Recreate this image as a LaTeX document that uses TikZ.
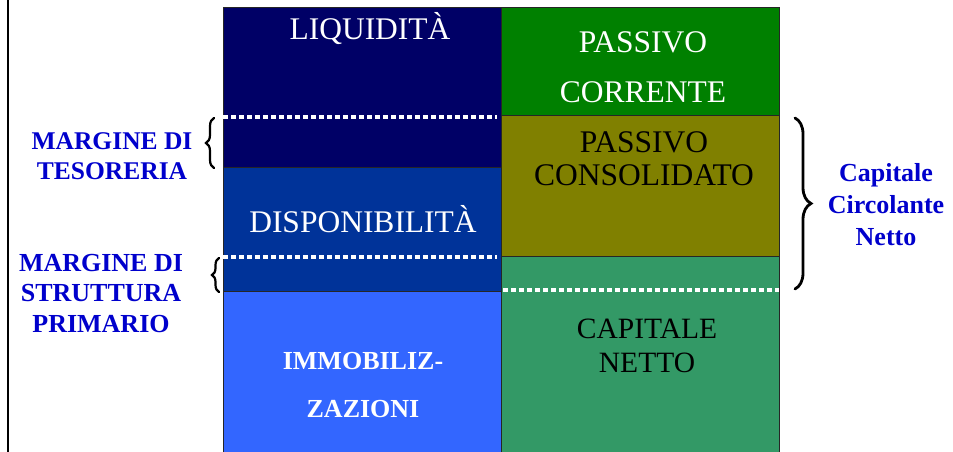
\documentclass[tikz,border=0pt]{standalone}
\usepackage{fontspec}
\setmainfont{Liberation Serif}
\usetikzlibrary{decorations.pathreplacing}
\definecolor{liqblue}{HTML}{000066}
\definecolor{dispblue}{HTML}{003399}
\definecolor{immblue}{HTML}{3366FF}
\definecolor{pcgreen}{HTML}{008000}
\definecolor{pcolive}{HTML}{808000}
\definecolor{cngreen}{HTML}{339966}
\definecolor{labblue}{HTML}{0000CC}
\begin{document}
\begin{tikzpicture}
  [x=1pt,y=-1pt,
   box/.style={rectangle,draw=black!85,line width=0.8pt,inner sep=0pt,minimum width=278pt},
   title/.style={text=#1,align=center,anchor=base,inner sep=0pt},
   margin/.style={text=labblue,align=center,anchor=base,inner sep=0pt},
   cut/.style={white,line width=3.5pt,dash pattern=on 4.5pt off 3.5pt},
   curly/.style={decorate,decoration={brace,amplitude=#1},line width=2.2pt,line cap=round}]
  \useasboundingbox (0,0) rectangle (953,452);
  \draw[line width=2pt] (8,-5) -- (8,460);
  % attivo
  \node[box,fill=liqblue,minimum height=160pt] (liq) at (362,87) {};
  \node[box,fill=dispblue,minimum height=124pt] (disp) at (362,229) {};
  \node[box,fill=immblue,minimum height=169pt] (imm) at (362,375.5) {};
  % passivo
  \node[box,fill=pcgreen,minimum height=108pt] (pcorr) at (640,61) {};
  \node[box,fill=pcolive,minimum height=141pt] (pcons) at (640,185.5) {};
  \node[box,fill=cngreen,minimum height=204pt] (cnet) at (640,358) {};
  % testi (base = ultima riga)
  \node[title=white,font=\fontsize{31.5}{48}\selectfont] (tliq) at (370,40) {LIQUIDITÀ};
  \node[title=white,font=\fontsize{31.5}{48}\selectfont] (tdisp) at (363,232) {DISPONIBILITÀ};
  \node[title=white,font=\bfseries\fontsize{26}{48}\selectfont] (timm) at (363,417) {IMMOBILIZ-\\ZAZIONI};
  \node[title=white,font=\fontsize{31.5}{50}\selectfont] (tpcorr) at (643,102) {PASSIVO\\CORRENTE};
  \node[title=black,font=\fontsize{31.5}{33}\selectfont] (tpcons) at (644,185) {PASSIVO\\CONSOLIDATO};
  \node[title=black,font=\fontsize{29.5}{33.5}\selectfont] (tcnet) at (647,372) {CAPITALE\\NETTO};
  % margini
  \coordinate (m1a) at (223,117); \coordinate (m1b) at (497,117);
  \coordinate (m2a) at (223,257); \coordinate (m2b) at (497,257);
  \coordinate (m3a) at (503,290); \coordinate (m3b) at (779,290);
  \draw[cut] (m1a) -- (m1b);
  \draw[cut] (m2a) -- (m2b);
  \draw[cut] (m3a) -- (m3b);
  \coordinate (b1a) at (214,168); \coordinate (b1b) at (214,118);
  \coordinate (b2a) at (219,292); \coordinate (b2b) at (219,258);
  \coordinate (b3a) at (795,118); \coordinate (b3b) at (795,289);
  \draw[curly=8pt] (b1a) -- (b1b);
  \draw[curly=7pt] (b2a) -- (b2b);
  \draw[curly=16pt,line width=2.8pt] (b3a) -- (b3b);
  \node[margin,font=\bfseries\fontsize{25.5}{30}\selectfont] (mtes) at (112,179) {MARGINE DI\\TESORERIA};
  \node[margin,font=\bfseries\fontsize{26}{30.5}\selectfont] (mstr) at (101,332) {MARGINE DI\\STRUTTURA\\PRIMARIO};
  \node[margin,font=\bfseries\fontsize{26}{32}\selectfont] (ccn) at (886,245) {Capitale\\Circolante\\Netto};
\end{tikzpicture}
\end{document}
